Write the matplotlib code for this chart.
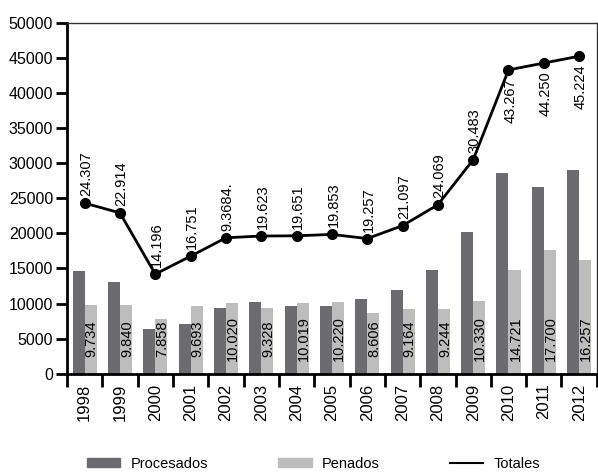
import numpy as np
import matplotlib as mpl
mpl.use('Agg')
import matplotlib.pyplot as plt
from matplotlib.patches import Patch
from matplotlib.lines import Line2D

plt.rcParams['font.family'] = ['Liberation Sans', 'DejaVu Sans']

years = ['1998', '1999', '2000', '2001', '2002', '2003', '2004', '2005',
         '2006', '2007', '2008', '2009', '2010', '2011', '2012']
totales = [24307, 22914, 14196, 16751, 19368, 19623, 19651, 19853,
           19257, 21097, 24069, 30483, 43267, 44250, 45224]
penados = [9734, 9840, 7858, 9693, 10020, 9328, 10019, 10220,
           8606, 9164, 9244, 10330, 14721, 17700, 16257]
procesados = [14573, 13074, 6338, 7058, 9348, 10295, 9632, 9633,
              10651, 11933, 14825, 20153, 28546, 26550, 28967]
# labels as printed on the original chart
total_labels = ['24.307', '22.914', '14.196', '16.751', '9.3684.', '19.623', '19.651',
                '19.853', '19.257', '21.097', '24.069', '30.483', '43.267', '44.250', '45.224']
penados_labels = ['9.734', '9.840', '7.858', '9.693', '10.020', '9.328', '10.019', '10.220',
                  '8.606', '9.164', '9.244', '10.330', '14.721', '17.700', '16.257']

dark = '#6b6b70'
light = '#bdbdbd'

fig = plt.figure(figsize=(5.98, 4.72), dpi=100)
ax = fig.add_axes([0.112, 0.208, 0.886, 0.744])

x = np.arange(len(years))
w = 0.34
ax.bar(x - w / 2, procesados, w, color=dark)
ax.bar(x + w / 2, penados, w, color=light)
ax.plot(x, totales, color='black', lw=2, marker='o', ms=7)

for i in range(len(years)):
    ax.text(x[i] + w / 2 + 0.03, 5000, penados_labels[i], rotation=90,
            ha='center', va='center', fontsize=10.5)
    if i >= 12:
        ax.text(x[i] + 0.05, totales[i] - 1200, total_labels[i], rotation=90,
                ha='center', va='top', fontsize=10.5)
    else:
        ax.text(x[i] + 0.05, totales[i] + 1000, total_labels[i], rotation=90,
                ha='center', va='bottom', fontsize=10.5)

ax.set_xlim(-0.5, len(years) - 0.5)
ax.set_ylim(0, 50000)
ax.set_yticks(np.arange(0, 50001, 5000))
ax.set_xticks(x)
ax.set_xticklabels(years, rotation=90)
ax.set_xticks(np.arange(-0.5, len(years), 1), minor=True)
ax.tick_params(axis='x', which='major', length=0, pad=7, labelsize=12)
ax.tick_params(axis='x', which='minor', length=9, width=2, direction='out')
ax.tick_params(axis='y', length=8, width=2, labelsize=11.5, pad=2)

for s in ['left', 'bottom']:
    ax.spines[s].set_linewidth(2)
for s in ['top', 'right']:
    ax.spines[s].set_linewidth(1)
    ax.spines[s].set_color('#333333')

handles = [Patch(color=dark, label='Procesados'),
           Patch(color=light, label='Penados'),
           Line2D([], [], color='black', lw=1.5, label='Totales')]
fig.legend(handles=handles, loc='lower center', bbox_to_anchor=(0.524, -0.025), ncol=3,
           frameon=False, fontsize=10.5, handlelength=2.3, handleheight=0.55,
           columnspacing=4.8, handletextpad=0.7)

fig.savefig('out.png', dpi=100)
